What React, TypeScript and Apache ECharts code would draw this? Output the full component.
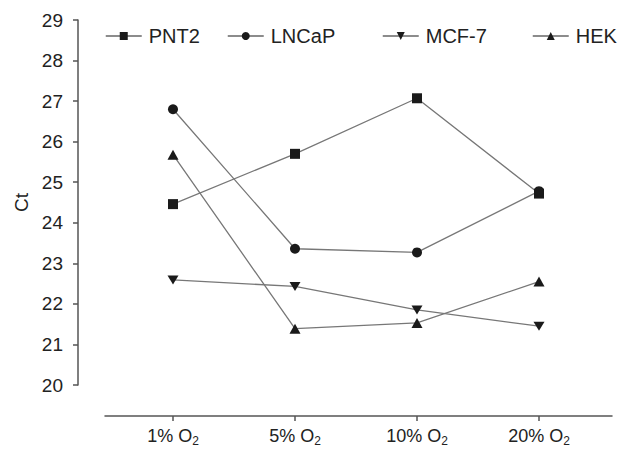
import React, { useEffect, useRef } from "react";
import * as echarts from "echarts";

const categories = ["1", "5", "10", "20"];
const seriesNames = ["PNT2", "LNCaP", "MCF-7", "HEK"];
const pnt2 = [24.46, 25.7, 27.07, 24.72];
const lncap = [26.8, 23.36, 23.27, 24.78];
const mcf7 = [22.59, 22.43, 21.85, 21.45];
const hek = [25.68, 21.39, 21.53, 22.55];
const yTicks = { min: 20, max: 29, interval: 1 };

const symbols = ["rect", "circle", "path://M0,0 L10,0 L5,9 Z", "triangle"];
const values = [pnt2, lncap, mcf7, hek];
const legendLeft = [100, 222, 377, 527];

export default function App() {
  const ref = useRef<HTMLDivElement>(null);
  useEffect(() => {
    if (!ref.current) return;
    const chart = echarts.init(ref.current, null, { renderer: "svg" });
    const font = "Liberation Sans, Arial, Helvetica, sans-serif";
    chart.setOption({
      animation: false,
      backgroundColor: "#fff",
      textStyle: { fontFamily: font },
      legend: seriesNames.map((n, i) => ({
        data: [n],
        left: legendLeft[i],
        top: 21,
        itemWidth: 36,
        itemHeight: 10,
        itemGap: 0,
        textStyle: { fontSize: 20, color: "#222", fontFamily: font, padding: [0, 0, 0, 2] },
        itemStyle: { color: "#1a1a1a" },
        lineStyle: { color: "#666", width: 1.5 },
      })),
      grid: [
        { left: 173, right: 79, top: 20, bottom: 68 },
        { left: 105, right: 6, top: 20, bottom: 68 },
      ],
      xAxis: [
        {
          type: "category",
          gridIndex: 0,
          data: categories,
          boundaryGap: false,
          offset: 31,
          axisLine: { show: false },
          axisTick: { show: true, length: 5, lineStyle: { color: "#555", width: 1.5 } },
          axisLabel: {
            margin: 8,
            formatter: (v: string) => `{n|${v}% O}{s|2}`,
            rich: {
              n: { fontSize: 18, color: "#222", fontFamily: font },
              s: { fontSize: 12, color: "#222", fontFamily: font, padding: [11, 0, 0, 0] },
            },
          },
          splitLine: { show: false },
        },
        {
          type: "value",
          gridIndex: 1,
          offset: 31,
          axisLine: { show: true, onZero: false, lineStyle: { color: "#555", width: 1.5 } },
          axisTick: { show: false },
          axisLabel: { show: false },
          splitLine: { show: false },
        },
      ],
      yAxis: [
        {
          type: "value",
          gridIndex: 0,
          min: yTicks.min,
          max: yTicks.max,
          interval: yTicks.interval,
          offset: 95,
          name: "Ct",
          nameLocation: "middle",
          nameGap: 36,
          nameTextStyle: { fontSize: 19, color: "#222", fontFamily: font },
          axisLine: { show: true, lineStyle: { color: "#555", width: 1.5 } },
          axisTick: { show: true, length: 5, lineStyle: { color: "#555", width: 1.5 } },
          axisLabel: { fontSize: 19, color: "#222", margin: 15, fontFamily: font },
          splitLine: { show: false },
        },
        {
          type: "value",
          gridIndex: 1,
          show: false,
        },
      ],
      series: seriesNames.map((n, i) => ({
        name: n,
        type: "line",
        xAxisIndex: 0,
        yAxisIndex: 0,
        data: values[i],
        symbol: symbols[i],
        symbolSize: i >= 2 ? [11, 10] : 10,
        symbolKeepAspect: true,
        lineStyle: { color: "#777", width: 1.3 },
        itemStyle: { color: "#1a1a1a" },
      })),
    });
    return () => chart.dispose();
  }, []);
  return (
    <div
      ref={ref}
      style={{ position: "fixed", left: 0, top: 0, width: 618, height: 453 }}
    />
  );
}
